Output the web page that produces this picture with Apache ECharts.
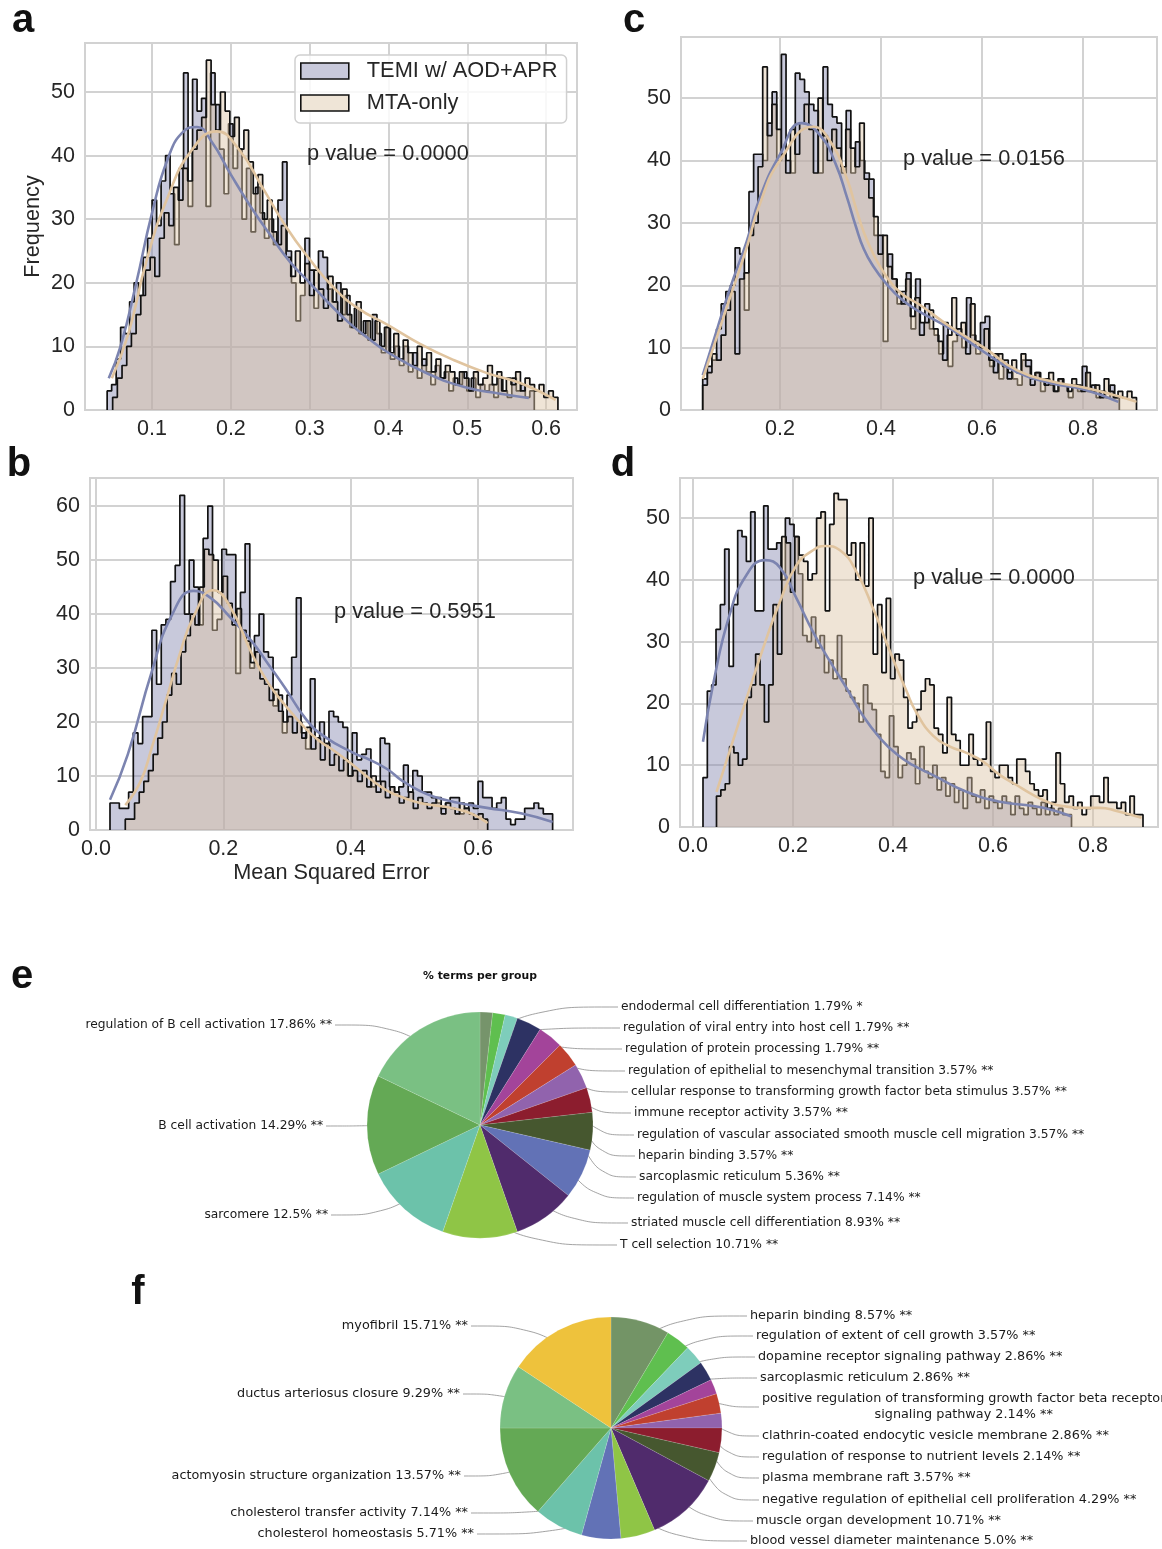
<!DOCTYPE html>
<html><head><meta charset="utf-8">
<script src="https://cdn.jsdelivr.net/npm/echarts@6/dist/echarts.min.js"></script>
<style>html,body{margin:0;padding:0;background:#fff}#c{width:1162px;height:1549px}</style>
</head><body><div id="c"></div>
<script>
// ================= DATA =================
const SERIES_NAMES = ['TEMI w/ AOD+APR', 'MTA-only'];
const X_TICKS_A = [0.1, 0.2, 0.3, 0.4, 0.5, 0.6];
const X_TICKS_BCD = [0.0, 0.2, 0.4, 0.6, 0.8];
const Y_TICKS_50 = [0, 10, 20, 30, 40, 50];
const Y_TICKS_60 = [0, 10, 20, 30, 40, 50, 60];
const P_VALUES = ['0.0000', '0.5951', '0.0156', '0.0000']; // a, b, c, d

// histogram bin ranges [first edge, last edge] and counts
const A_TEMI_RANGE = [0.043, 0.585];
const A_TEMI = [3,4,8,13,12, 17,20,18,24,27, 33,29,36,40,34, 26,38,53,32,52, 47,49,32,53,48, 41,34,45,38,41, 30,38,28,35,31, 27,30,26,33,39, 25,20,14,18,27, 22,16,25,24,19, 17,20,15,18,13, 16,12,14,11,15, 12,9,13,8,10, 7,10,6,9,5, 8,6,4,7,5, 6,3,5,4,6, 3,5,2,4,3, 4,2,5,3,2, 5,3,4,2,3];
const A_MTA_RANGE = [0.050, 0.615];
const A_MTA = [2,5,7,10,12, 15,18,22,24,21, 27,31,29,35,33, 38,36,41,44,46, 55,48,44,50,47, 43,46,41,44,39, 34,37,30,33,28, 26,29,24,21,25, 20,23,18,22,19, 16,21,17,14,19, 15,13,17,12,14, 11,14,10,13,9, 12,8,11,9,7, 10,7,9,6,8, 5,7,6,4,6, 5,3,6,4,5, 7,4,6,3,5, 4,6,3,5,4, 3,4,2,3,2];

const B_TEMI_RANGE = [0.022, 0.717];
const B_TEMI = [5,5,4,4,7, 18,16,21,21,37, 27,38,39,46,49, 62,40,50,45,38, 54,60,37,39,52, 51,51,29,44,53, 30,36,40,33,32, 23,25,18,25,32, 43,18,15,28,17, 20,16,22,21,20, 19,10,18,13,14, 15,8,9,17,16, 8,7,8,12,7, 11,10,7,7,6, 5,4,5,6,6, 3,4,5,4,9, 6,6,4,5,6, 2,1,2,2,4, 4,5,4,3,3];
const B_MTA_RANGE = [0.046, 0.615];
const B_MTA = [2,2,5,7,9, 11,14,17,20,25, 29,27,33,36,40, 38,45,52,51,50, 44,47,42,38,41, 37,35,31,33,28, 27,24,26,22,20, 21,18,20,17,19, 15,17,13,16,12, 14,11,13,10,11, 9,11,8,10,7, 9,6,8,7,5, 6,7,4,6,5, 4,5,6,3,5, 4,3,5,4,3, 2,3,2];

const C_TEMI_RANGE = [0.047, 0.872];
const C_TEMI = [5,7,8,13,17, 19,20,26,25,16, 35,41,41,40,46, 51,40,57,40,38, 54,53,51,49,48, 38,55,49,47,46, 38,48,38,43,40, 38,37,28,28,11, 25,21,17,19,22, 13,21,14,17,13, 12,9,14,7,11, 13,10,18,12,9, 14,15,7,9,5, 8,6,5,4,8, 8,5,6,3,5, 4,3,5,4,2, 4,3,7,3,4, 2,3,2,4,2];
const C_MTA_RANGE = [0.047, 0.906];
const C_MTA = [4,6,9,8,12, 16,19,9,21,22, 28,30,39,55,44, 49,45,41,38,45, 41,46,49,45,38, 50,44,40,45,42, 39,45,42,39,46, 37,34,31,25,28, 23,21,19,17,21, 15,18,12,14,16, 13,11,8,12,18, 12,14,9,17,11, 10,13,8,6,9, 7,5,8,6,9, 7,4,6,5,4, 6,3,5,4,3, 5,4,3,6,3, 4,2,5,3,2, 3,2,3,2];

const D_TEMI_RANGE = [0.020, 0.757];
const D_TEMI = [8,22,23,32,36, 45,26,36,48,47, 43,51,35,35,52, 45,45,46,40,50, 49,47,41,31,30, 34,29,31,25,27, 24,31,24,22,21, 20,17,23,20,19, 15,9,8,18,13, 8,10,12,11,7, 13,9,8,10,6, 8,5,7,4,6, 3,8,5,4,6, 3,5,4,3,5, 4,2,5,3,2, 4,3,2,4,2, 3,2,3,2,2];
const D_MTA_RANGE = [0.047, 0.900];
const D_MTA = [5,6,7,13,12, 10,11,21,23,28, 23,17,23,36,28, 47,46,38,47,44, 43,40,41,50,51, 35,49,54,53,53, 44,46,40,46,39, 50,28,36,25,37, 24,28,27,21,16, 17,19,22,24,23, 16,15,12,21,15, 14,10,10,15,11, 10,11,17,9,8, 10,10,8,7,11, 11,9,7,6,5, 6,3,4,12,7, 4,5,3,4,2, 3,5,5,4,8, 4,4,3,4,2, 5,2,2];

// KDE curves [x, frequency]
const KDE_A_TEMI = [[0.045,5],[0.06,10],[0.08,20],[0.1,31],[0.12,39.5],[0.14,43.8],[0.157,44.5],[0.175,42.3],[0.2,37],[0.225,32],[0.25,27.5],[0.275,23.3],[0.3,20],[0.325,16.7],[0.35,13.7],[0.375,11.2],[0.4,9],[0.45,5.7],[0.5,3.5],[0.54,2.6],[0.578,1.9]];
const KDE_A_MTA = [[0.049,5],[0.07,12],[0.093,23.5],[0.12,33.5],[0.15,40.8],[0.182,43.8],[0.21,41],[0.24,35],[0.27,28.8],[0.3,23.7],[0.33,19.3],[0.36,16.1],[0.4,13.3],[0.44,10.4],[0.48,8],[0.525,5.8],[0.568,4.2],[0.612,1.6]];
const KDE_B_TEMI = [[0.022,5.6],[0.05,14],[0.0875,29.3],[0.12,40],[0.153,44.3],[0.18,43],[0.21,39.5],[0.245,34.9],[0.27,30.8],[0.297,26.3],[0.33,20.5],[0.36,17.2],[0.404,14.3],[0.43,13],[0.457,11.3],[0.48,9.2],[0.509,7.2],[0.535,6],[0.562,5.2],[0.614,4.1],[0.667,3.1],[0.717,1.5]];
const KDE_B_MTA = [[0.046,4.6],[0.07,9],[0.0875,15.2],[0.11,24],[0.13,32],[0.155,40],[0.184,44.4],[0.21,41.5],[0.245,32.6],[0.27,27.3],[0.297,23.1],[0.33,18.7],[0.352,16.4],[0.37,15],[0.404,12],[0.43,9.5],[0.457,7.3],[0.48,6.1],[0.509,5],[0.562,4],[0.59,3],[0.615,1.3]];
const KDE_C_TEMI = [[0.047,5.6],[0.068,11],[0.101,19.5],[0.134,27],[0.16,34],[0.2,41],[0.243,46],[0.28,44],[0.31,39.5],[0.333,34],[0.35,29.5],[0.366,25.8],[0.385,23],[0.41,20.3],[0.44,17.8],[0.478,15.7],[0.538,13],[0.604,9.3],[0.671,6],[0.737,4.3],[0.802,3.3],[0.87,1.3]];
const KDE_C_MTA = [[0.047,5],[0.068,10],[0.101,18],[0.134,26],[0.16,33],[0.2,40],[0.266,45.4],[0.3,43],[0.333,37],[0.35,32.5],[0.366,28.5],[0.385,25],[0.41,21.5],[0.44,18.7],[0.478,16.8],[0.538,13.3],[0.604,10],[0.671,6.3],[0.737,4.6],[0.802,3.6],[0.87,2.2],[0.906,1.3]];
const KDE_D_TEMI = [[0.02,13.8],[0.04,23],[0.073,34.3],[0.107,40.8],[0.144,43.2],[0.174,42],[0.207,37],[0.24,31.6],[0.274,26.8],[0.307,22.5],[0.34,18],[0.374,14.4],[0.407,11.8],[0.44,10],[0.48,8.4],[0.547,5.7],[0.614,4.1],[0.68,3.4],[0.72,2.7],[0.757,1.7]];
const KDE_D_MTA = [[0.047,5.7],[0.073,12.2],[0.107,20.8],[0.14,28.9],[0.174,36.5],[0.207,42.4],[0.24,44.8],[0.264,45.5],[0.294,44.8],[0.327,41.3],[0.36,35.4],[0.394,28.4],[0.427,22],[0.447,18.5],[0.48,14.8],[0.514,13],[0.547,12],[0.58,10.6],[0.614,8.4],[0.647,6.8],[0.68,5.2],[0.714,3.9],[0.747,3.3],[0.78,3.1],[0.814,3.1],[0.847,2.6],[0.897,1.5]];

// Pie e
const PIE_E_TITLE = '% terms per group';
const PIE_E_TERMS = ['endodermal cell differentiation','regulation of viral entry into host cell','regulation of protein processing','regulation of epithelial to mesenchymal transition','cellular response to transforming growth factor beta stimulus','immune receptor activity','regulation of vascular associated smooth muscle cell migration','heparin binding','sarcoplasmic reticulum','regulation of muscle system process','striated muscle cell differentiation','T cell selection','sarcomere','B cell activation','regulation of B cell activation'];
const PIE_E_PCT = [1.79,1.79,1.79,3.57,3.57,3.57,3.57,3.57,5.36,7.14,8.93,10.71,12.5,14.29,17.86];
const PIE_E_SIG = ['*','**','**','**','**','**','**','**','**','**','**','**','**','**','**'];
// Pie f
const PIE_F_TERMS = ['heparin binding','regulation of extent of cell growth','dopamine receptor signaling pathway','sarcoplasmic reticulum','positive regulation of transforming growth factor beta receptor\nsignaling pathway','clathrin-coated endocytic vesicle membrane','regulation of response to nutrient levels','plasma membrane raft','negative regulation of epithelial cell proliferation','muscle organ development','blood vessel diameter maintenance','cholesterol homeostasis','cholesterol transfer activity','actomyosin structure organization','ductus arteriosus closure','myofibril'];
const PIE_F_PCT = [8.57,3.57,2.86,2.86,2.14,2.86,2.14,3.57,4.29,10.71,5.0,5.71,7.14,13.57,9.29,15.71];
const PIE_F_SIG = ['**','**','**','**','**','**','**','**','**','**','**','**','**','**','**','**'];

// ================= STYLE / LAYOUT =================
const PIE_E_COLORS = ['#76946b','#5fbf4f','#7ecdbb','#2d3263','#a3449a','#c0402f','#9163ad','#8c1d2e','#46572f','#6272b6','#502b6c','#8fc546','#6cc2aa','#64a955','#7ac083'];
const PIE_F_COLORS = ['#739466','#5fbf4f','#7ecdbb','#2d3263','#a3449a','#c0402f','#9163ad','#8c1d2e','#46572f','#502b6c','#8fc546','#6272b6','#6cc2aa','#64a955','#7ac083','#eec23c'];
const PIE_E_LABEL_POS = [[621,1007],[623,1028],[625,1049],[628,1071],[631,1092],[634,1113],[637,1135],[638,1156],[639,1177],[637,1198],[631,1223],[620,1245],[328,1215],[323,1126],[332,1025]];
const PIE_F_LABEL_POS = [[750,1316],[756,1336],[758,1357],[760,1378],[762,1407],[762,1436],[762,1457],[762,1478],[762,1500],[756,1521],[750,1541],[474,1534],[468,1513],[461,1476],[460,1394],[468,1326]];

const FILL_TEMI = 'rgba(130,132,173,0.44)';
const FILL_MTA = 'rgba(219,196,164,0.45)';
const KDE_TEMI_COLOR = '#7c84b0';
const KDE_MTA_COLOR = '#e0c49f';
const GRID_COLOR = '#d2d2d2';
const TXT = '#262626';
const FONT = 'Liberation Sans';

const PANELS = [
  {key:'a', grid:{left:85, top:43, width:492, height:367}, x:[0.0149,0.6392], y:[0,57.7], xt:X_TICKS_A, yt:Y_TICKS_50,
   temi:[A_TEMI_RANGE,A_TEMI], mta:[A_MTA_RANGE,A_MTA], kde:[KDE_A_TEMI,KDE_A_MTA], p:[307,154,P_VALUES[0]]},
  {key:'b', grid:{left:90, top:478, width:483, height:352}, x:[-0.0094,0.749], y:[0,65.2], xt:X_TICKS_BCD, yt:Y_TICKS_60,
   temi:[B_TEMI_RANGE,B_TEMI], mta:[B_MTA_RANGE,B_MTA], kde:[KDE_B_TEMI,KDE_B_MTA], p:[334,612,P_VALUES[1]]},
  {key:'c', grid:{left:681, top:37, width:476, height:373}, x:[0.004,0.9466], y:[0,59.8], xt:X_TICKS_BCD, yt:Y_TICKS_50,
   temi:[C_TEMI_RANGE,C_TEMI], mta:[C_MTA_RANGE,C_MTA], kde:[KDE_C_TEMI,KDE_C_MTA], p:[903,159,P_VALUES[2]]},
  {key:'d', grid:{left:680, top:478, width:478, height:349}, x:[-0.026,0.93], y:[0,56.5], xt:X_TICKS_BCD, yt:Y_TICKS_50,
   temi:[D_TEMI_RANGE,D_TEMI], mta:[D_MTA_RANGE,D_MTA], kde:[KDE_D_TEMI,KDE_D_MTA], p:[913,578,P_VALUES[3]]}
];

function histPoints(range, counts) {
  const n = counts.length, w = (range[1] - range[0]) / n;
  const pts = [[range[0], 0]];
  for (let i = 0; i < n; i++) pts.push([range[0] + i * w, counts[i]]);
  pts.push([range[1], counts[n - 1]]);
  pts.push([range[1], 0]);
  return pts;
}

const grids = [], xAxes = [], yAxes = [], series = [], graphics = [];
PANELS.forEach((P, k) => {
  grids.push(Object.assign({show:true, borderColor:GRID_COLOR, borderWidth:2, backgroundColor:'transparent'}, P.grid));
  xAxes.push({
    gridIndex:k, type:'value', min:P.x[0], max:P.x[1],
    axisLine:{show:false}, axisTick:{show:false, customValues:P.xt},
    axisLabel:{customValues:P.xt, fontSize:21.5, fontFamily:FONT, color:TXT, margin:8, formatter:v => v.toFixed(1)},
    splitLine:{show:true, lineStyle:{color:GRID_COLOR, width:2}},
    name: P.key === 'b' ? 'Mean Squared Error' : '', nameLocation:'middle', nameGap:32,
    nameTextStyle:{fontSize:21.7, fontFamily:FONT, color:TXT}
  });
  yAxes.push({
    gridIndex:k, type:'value', min:P.y[0], max:P.y[1],
    axisLine:{show:false}, axisTick:{show:false, customValues:P.yt},
    axisLabel:{customValues:P.yt, fontSize:21.5, fontFamily:FONT, color:TXT, margin:10, formatter:v => String(Math.round(v))},
    splitLine:{show:true, lineStyle:{color:GRID_COLOR, width:2}},
    name: P.key === 'a' ? 'Frequency' : '', nameLocation:'middle', nameGap:41,
    nameTextStyle:{fontSize:21.7, fontFamily:FONT, color:TXT}
  });
  const common = {type:'line', xAxisIndex:k, yAxisIndex:k, symbol:'none', silent:true, animation:false};
  series.push(Object.assign({}, common, {name:SERIES_NAMES[0], step:'end', data:histPoints(P.temi[0], P.temi[1]),
    lineStyle:{color:'#111', width:1.7}, itemStyle:{color:'#c8c9db'}, areaStyle:{color:FILL_TEMI, opacity:1}, z:2}));
  series.push(Object.assign({}, common, {name:SERIES_NAMES[1], step:'end', data:histPoints(P.mta[0], P.mta[1]),
    lineStyle:{color:'#111', width:1.7}, itemStyle:{color:'#efe5d7'}, areaStyle:{color:FILL_MTA, opacity:1}, z:3}));
  series.push(Object.assign({}, common, {name:'kde-temi-' + P.key, smooth:0.5, data:P.kde[0],
    lineStyle:{color:KDE_TEMI_COLOR, width:2.6}, z:4}));
  series.push(Object.assign({}, common, {name:'kde-mta-' + P.key, smooth:0.5, data:P.kde[1],
    lineStyle:{color:KDE_MTA_COLOR, width:2.6}, z:4}));
  graphics.push({type:'text', x:P.p[0], y:P.p[1], silent:true, z:10,
    style:{text:'p value = ' + P.p[2], font:'21.8px "' + FONT + '"', fill:TXT, textAlign:'left', textVerticalAlign:'middle'}});
});

// panel letters
[['a',23,21],['c',634,21],['b',19,465],['d',623,465],['e',22,977],['f',138,1293]].forEach(L => {
  graphics.push({type:'text', x:L[1], y:L[2], silent:true,
    style:{text:L[0], font:'bold 40px "' + FONT + '"', fill:'#111', textAlign:'center', textVerticalAlign:'middle'}});
});
graphics.push({type:'text', x:480, y:976, silent:true,
  style:{text:PIE_E_TITLE, font:'bold 10.8px "DejaVu Sans"', fill:'#111', textAlign:'center', textVerticalAlign:'middle'}});

function fmtPct(v) { return Number.isInteger(v) ? v.toFixed(1) : String(v); }

function pieLayout(pct, center, radius, pos) {
  const total = pct.reduce((s, v) => s + v, 0);
  const mids = []; let acc = 0;
  pct.forEach(v => { mids.push((90 - (acc + v / 2) / total * 360) * Math.PI / 180); acc += v; });
  return function (p) {
    const i = p.dataIndex, L = pos[i], right = L[0] > center[0], a = mids[i];
    const p0 = [center[0] + 0.82 * radius * Math.cos(a), center[1] - 0.82 * radius * Math.sin(a)];
    const multi = p.text.indexOf('\n') >= 0;
    let x = L[0], align = right ? 'left' : 'right';
    if (multi) { x = L[0] + p.labelRect.width / 2; align = 'center'; }
    const p2 = [right ? L[0] - 3 : L[0] + 3, L[1]];
    const p1 = [p0[0] + (p2[0] - p0[0]) * 0.45, L[1]];
    return {x: x, y: L[1], align: align, verticalAlign: 'middle', labelLinePoints: [p0, p1, p2]};
  };
}

function pieSeries(terms, pct, sig, colors, center, radius, pos, fontSize) {
  return {
    type:'pie', center:center, radius:radius, startAngle:90, clockwise:true, silent:true, animation:false,
    avoidLabelOverlap:false,
    data: terms.map((t, i) => ({name:t, value:pct[i], itemStyle:{color:colors[i]},
      label:{formatter: t + ' ' + fmtPct(pct[i]) + '% ' + sig[i]}})),
    itemStyle:{borderColor:'rgba(255,255,255,0.25)', borderWidth:0.5},
    label:{show:true, position:'outside', fontFamily:'DejaVu Sans', fontSize:fontSize, color:'#1a1a1a', lineHeight:16},
    labelLine:{show:true, smooth:0.35, length:10, length2:10, lineStyle:{color:'#8c8c8c', width:0.8}},
    labelLayout: pieLayout(pct, center, radius, pos)
  };
}
series.push(pieSeries(PIE_E_TERMS, PIE_E_PCT, PIE_E_SIG, PIE_E_COLORS, [480,1125], 113, PIE_E_LABEL_POS, 12.25));
series.push(pieSeries(PIE_F_TERMS, PIE_F_PCT, PIE_F_SIG, PIE_F_COLORS, [611,1428], 111, PIE_F_LABEL_POS, 12.8));

const chart = echarts.init(document.getElementById('c'), null, {renderer:'canvas', width:1162, height:1549});
chart.setOption({
  animation:false,
  backgroundColor:'#ffffff',
  legend:{
    data:[
      {name:SERIES_NAMES[0], icon:'rect', itemStyle:{color:'#c8c9db', borderColor:'#111', borderWidth:1.6}},
      {name:SERIES_NAMES[1], icon:'rect', itemStyle:{color:'#efe5d7', borderColor:'#111', borderWidth:1.6}}
    ],
    orient:'vertical', left:295, top:55, itemWidth:48, itemHeight:16, itemGap:8,
    backgroundColor:'rgba(255,255,255,0.85)', borderColor:'#d0d0d0', borderWidth:1.5, borderRadius:5,
    padding:[4,9,8,5], selectedMode:false,
    textStyle:{fontSize:21.8, fontFamily:FONT, color:TXT, lineHeight:24, padding:[0,0,0,13]}
  },
  grid:grids, xAxis:xAxes, yAxis:yAxes, series:series, graphic:graphics
});
</script></body></html>
